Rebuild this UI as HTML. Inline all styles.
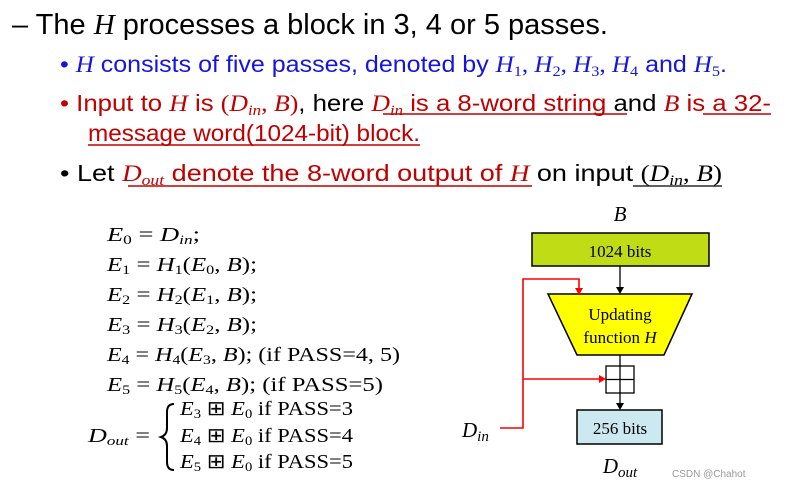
<!DOCTYPE html>
<html><head><meta charset="utf-8"><style>
html,body{margin:0;padding:0;background:#fff;}
svg{display:block;}
.s{font-family:"Liberation Sans",sans-serif;}
.m{font-family:"Liberation Serif",serif;}
</style></head><body>
<svg width="795" height="487" xmlns="http://www.w3.org/2000/svg">
<text x="12" y="34" class="s" font-size="29" fill="#000" textLength="596" lengthAdjust="spacingAndGlyphs">– The <tspan class="m" font-style="italic">H</tspan> processes a block in 3, 4 or 5 passes.</text>
<text x="60" y="72" class="s" font-size="23" fill="#1515e0" textLength="667" lengthAdjust="spacingAndGlyphs">• <tspan class="m" font-style="italic">H</tspan> consists of five passes, denoted by <tspan class="m" font-style="italic">H</tspan><tspan class="m" font-size="15" dy="4">1</tspan><tspan class="m" dy="-4">, </tspan><tspan class="m" font-style="italic">H</tspan><tspan class="m" font-size="15" dy="4">2</tspan><tspan class="m" dy="-4">, </tspan><tspan class="m" font-style="italic">H</tspan><tspan class="m" font-size="15" dy="4">3</tspan><tspan class="m" dy="-4">, </tspan><tspan class="m" font-style="italic">H</tspan><tspan class="m" font-size="15" dy="4">4</tspan><tspan dy="-4"> and </tspan><tspan class="m" font-style="italic">H</tspan><tspan class="m" font-size="15" dy="4">5</tspan><tspan dy="-4">.</tspan></text>
<text x="60" y="111" class="s" font-size="23" fill="#c00000" textLength="711" lengthAdjust="spacingAndGlyphs">• Input to <tspan class="m" font-style="italic">H</tspan> is <tspan class="m">(<tspan font-style="italic">D</tspan><tspan font-size="15" font-style="italic" dy="4">in</tspan><tspan dy="-4">, </tspan><tspan font-style="italic">B</tspan>)</tspan><tspan fill="#000">, here </tspan><tspan class="m" font-style="italic">D</tspan><tspan class="m" font-size="15" font-style="italic" dy="4">in</tspan><tspan dy="-4"> is a 8-word string </tspan><tspan fill="#000">and </tspan><tspan class="m" font-style="italic">B</tspan> is a 32-</text>
<line x1="383" y1="114" x2="627" y2="114" stroke="#c00000" stroke-width="1.5"/>
<line x1="703" y1="114" x2="771" y2="114" stroke="#c00000" stroke-width="1.5"/>
<text x="88" y="141" class="s" font-size="23" fill="#c00000" textLength="332" lengthAdjust="spacingAndGlyphs">message word(1024-bit) block.</text>
<line x1="88" y1="145" x2="420" y2="145" stroke="#c00000" stroke-width="1.5"/>
<text x="60" y="181" class="s" font-size="23" fill="#000" textLength="662" lengthAdjust="spacingAndGlyphs">• Let <tspan fill="#c00000" class="m" font-style="italic">D</tspan><tspan fill="#c00000" class="m" font-size="15" font-style="italic" dy="4">out</tspan><tspan fill="#c00000" dy="-4"> denote the 8-word output of </tspan><tspan fill="#c00000" class="m" font-style="italic">H</tspan> on input <tspan class="m">(<tspan font-style="italic">D</tspan><tspan font-size="15" font-style="italic" dy="4">in</tspan><tspan dy="-4">, </tspan><tspan font-style="italic">B</tspan>)</tspan></text>
<line x1="128" y1="186" x2="532" y2="186" stroke="#c00000" stroke-width="1.5"/>
<line x1="633" y1="186" x2="722" y2="186" stroke="#000" stroke-width="1.2"/>
<g class="m" font-size="20" fill="#000">
<text x="107" y="241" textLength="93" lengthAdjust="spacingAndGlyphs"><tspan font-style="italic">E</tspan><tspan font-size="13" dy="3">0</tspan><tspan dy="-3"> = </tspan><tspan font-style="italic">D</tspan><tspan font-size="13" font-style="italic" dy="3">in</tspan><tspan dy="-3">;</tspan></text>
<text x="107" y="271" textLength="150" lengthAdjust="spacingAndGlyphs"><tspan font-style="italic">E</tspan><tspan font-size="13" dy="3">1</tspan><tspan dy="-3"> = </tspan><tspan font-style="italic">H</tspan><tspan font-size="13" dy="3">1</tspan><tspan dy="-3">(</tspan><tspan font-style="italic">E</tspan><tspan font-size="13" dy="3">0</tspan><tspan dy="-3">, </tspan><tspan font-style="italic">B</tspan>);</text>
<text x="107" y="301" textLength="150" lengthAdjust="spacingAndGlyphs"><tspan font-style="italic">E</tspan><tspan font-size="13" dy="3">2</tspan><tspan dy="-3"> = </tspan><tspan font-style="italic">H</tspan><tspan font-size="13" dy="3">2</tspan><tspan dy="-3">(</tspan><tspan font-style="italic">E</tspan><tspan font-size="13" dy="3">1</tspan><tspan dy="-3">, </tspan><tspan font-style="italic">B</tspan>);</text>
<text x="107" y="331" textLength="150" lengthAdjust="spacingAndGlyphs"><tspan font-style="italic">E</tspan><tspan font-size="13" dy="3">3</tspan><tspan dy="-3"> = </tspan><tspan font-style="italic">H</tspan><tspan font-size="13" dy="3">3</tspan><tspan dy="-3">(</tspan><tspan font-style="italic">E</tspan><tspan font-size="13" dy="3">2</tspan><tspan dy="-3">, </tspan><tspan font-style="italic">B</tspan>);</text>
<text x="107" y="361" textLength="293" lengthAdjust="spacingAndGlyphs"><tspan font-style="italic">E</tspan><tspan font-size="13" dy="3">4</tspan><tspan dy="-3"> = </tspan><tspan font-style="italic">H</tspan><tspan font-size="13" dy="3">4</tspan><tspan dy="-3">(</tspan><tspan font-style="italic">E</tspan><tspan font-size="13" dy="3">3</tspan><tspan dy="-3">, </tspan><tspan font-style="italic">B</tspan>);  (if PASS=4, 5)</text>
<text x="107" y="391" textLength="276" lengthAdjust="spacingAndGlyphs"><tspan font-style="italic">E</tspan><tspan font-size="13" dy="3">5</tspan><tspan dy="-3"> = </tspan><tspan font-style="italic">H</tspan><tspan font-size="13" dy="3">5</tspan><tspan dy="-3">(</tspan><tspan font-style="italic">E</tspan><tspan font-size="13" dy="3">4</tspan><tspan dy="-3">, </tspan><tspan font-style="italic">B</tspan>);  (if PASS=5)</text>
<text x="88" y="442" textLength="62" lengthAdjust="spacingAndGlyphs"><tspan font-style="italic">D</tspan><tspan font-size="13" font-style="italic" dy="3">out</tspan><tspan dy="-3"> =</tspan></text>
<path d="M174 404 Q167 404 167 412 L167 428 Q167 435 161 437 Q167 439 167 446 L167 462 Q167 470 174 470" fill="none" stroke="#000" stroke-width="2"/>
<text x="180" y="415" textLength="173" lengthAdjust="spacingAndGlyphs"><tspan font-style="italic">E</tspan><tspan font-size="13" dy="3">3</tspan><tspan dy="-3"> ⊞ </tspan><tspan font-style="italic">E</tspan><tspan font-size="13" dy="3">0</tspan><tspan dy="-3"> if PASS=3</tspan></text>
<text x="180" y="442" textLength="173" lengthAdjust="spacingAndGlyphs"><tspan font-style="italic">E</tspan><tspan font-size="13" dy="3">4</tspan><tspan dy="-3"> ⊞ </tspan><tspan font-style="italic">E</tspan><tspan font-size="13" dy="3">0</tspan><tspan dy="-3"> if PASS=4</tspan></text>
<text x="180" y="468" textLength="173" lengthAdjust="spacingAndGlyphs"><tspan font-style="italic">E</tspan><tspan font-size="13" dy="3">5</tspan><tspan dy="-3"> ⊞ </tspan><tspan font-style="italic">E</tspan><tspan font-size="13" dy="3">0</tspan><tspan dy="-3"> if PASS=5</tspan></text>
</g>
<text x="620" y="221" class="m" font-size="21" font-style="italic" text-anchor="middle">B</text>
<rect x="532" y="233" width="177" height="33" fill="#c0dc14" stroke="#000" stroke-width="1.5"/>
<text x="620" y="257" class="m" font-size="17" text-anchor="middle">1024 bits</text>
<line x1="620" y1="266" x2="620" y2="290" stroke="#000" stroke-width="1.3"/>
<path d="M616 287 L620 294 L624 287" fill="#000"/>
<polygon points="548,294 692,294 664,355 577,355" fill="#ffff00" stroke="#000" stroke-width="1.5"/>
<text x="620" y="320" class="m" font-size="17" text-anchor="middle">Updating</text>
<text x="620" y="343" class="m" font-size="17" text-anchor="middle">function <tspan font-style="italic">H</tspan></text>
<line x1="620" y1="355" x2="620" y2="406" stroke="#000" stroke-width="1.3"/>
<path d="M616 403 L620 410 L624 403" fill="#000"/>
<rect x="606" y="366" width="28" height="27" fill="none" stroke="#000" stroke-width="1.3"/>
<line x1="606" y1="379.5" x2="634" y2="379.5" stroke="#000" stroke-width="1.3"/>
<rect x="577" y="410" width="85" height="34" fill="#cce9f1" stroke="#000" stroke-width="1.5"/>
<text x="620" y="434" class="m" font-size="17" text-anchor="middle">256 bits</text>
<text x="620" y="473" class="m" font-size="21" font-style="italic" text-anchor="middle">D<tspan font-size="15" dy="4">out</tspan></text>
<text x="462" y="437" class="m" font-size="21" font-style="italic">D<tspan font-size="15" dy="4">in</tspan></text>
<path d="M500 428 L523 428 L523 279 L579 279 L579 290" fill="none" stroke="#ff0000" stroke-width="1.6"/>
<path d="M575 288 L579 295 L583 288" fill="#ff0000"/>
<path d="M523 379 L601 379" fill="none" stroke="#ff0000" stroke-width="1.6"/>
<path d="M599 375 L606 379 L599 383" fill="#ff0000"/>
<text x="672" y="477" class="s" font-size="10" fill="#999">CSDN @Chahot</text>
</svg>
</body></html>
